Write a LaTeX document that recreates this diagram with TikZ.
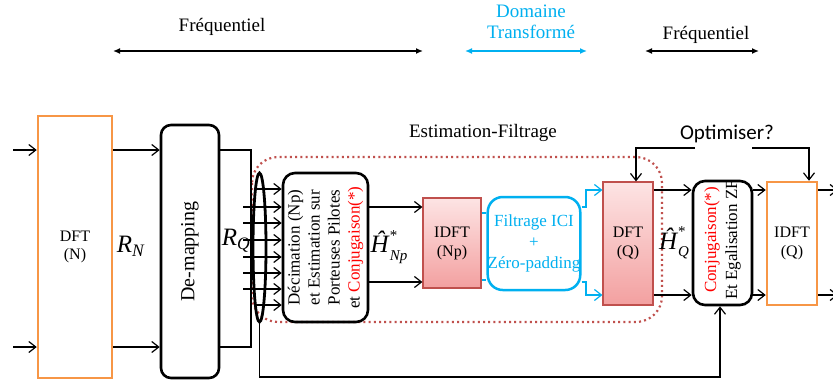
\documentclass[tikz,border=0pt]{standalone}
\usepackage{fontspec}
\setmainfont{Liberation Serif}
\newfontfamily\carlito{Carlito}
\usetikzlibrary{arrows.meta,shapes.geometric}
\definecolor{orng}{HTML}{F79646}
\definecolor{cyn}{HTML}{00B0F0}
\definecolor{dred}{HTML}{C0504D}
\definecolor{ptop}{HTML}{FDE4E4}
\definecolor{pbot}{HTML}{F3A0A0}
\newcommand{\setfs}[2]{\fontsize{#1bp}{#2bp}\selectfont}
\newcommand{\hatlbl}[1]{\textit{Ĥ}\makebox[0pt][l]{\raisebox{0.5em}{\setfs{15}{15}*}}\raisebox{-0.3em}{\setfs{15}{15}\textit{#1}}}
\begin{document}
\begin{tikzpicture}[x=1bp,y=-1bp,
  conn/.style={line width=1.2bp,-{Straight Barb[length=7bp,width=11bp]}},
  cconn/.style={conn,draw=cyn},
  plain/.style={line width=1.2bp},
  obox/.style={draw=orng,line width=2.5bp,inner sep=0},
  bbox/.style={draw=black,line width=2.6bp,rounded corners=10bp,inner sep=0},
  pbox/.style={draw=dred,line width=1.2bp,top color=ptop,bottom color=pbot,inner sep=0,align=center,font=\setfs{16}{19}},
  txt/.style={inner sep=0,align=center},
  dbl/.style={line width=1.6bp,{Latex[length=7bp,width=6bp]}-{Latex[length=7bp,width=6bp]}}
]
\useasboundingbox (0,0) rectangle (833,385);
\clip (0,0) rectangle (833,385);
\fill[white] (0,0) rectangle (833,385);

% top labels
\node[txt,font=\setfs{19}{21}] (fq1) at (222,27) {Fréquentiel};
\coordinate (a1) at (113,51); \coordinate (a2) at (423,51);
\draw[dbl] (a1) -- (a2);
\node[txt,font=\setfs{19}{21},text=cyn] (dom) at (531,22) {Domaine\\Transformé};
\coordinate (c1) at (465,51); \coordinate (c2) at (587,51);
\draw[dbl,draw=cyn] (c1) -- (c2);
\node[txt,font=\setfs{19}{21}] (fq2) at (706,35) {Fréquentiel};
\coordinate (f1) at (645,51); \coordinate (f2) at (759,51);
\draw[dbl] (f1) -- (f2);

% dotted estimation region
\draw[dred,line width=2.2bp,dash pattern=on 2bp off 3.2bp,rounded corners=26bp] (252,157) rectangle (662,322);
\node[txt,font=\setfs{19}{21}] (est) at (483,133) {Estimation-Filtrage};

% boxes
\node[obox,minimum width=74bp,minimum height=262bp,align=center,font=\setfs{16}{18}] (dftn) at (75,247) {DFT\\(N)};
\node[bbox,minimum width=58bp,minimum height=253bp] (demap) at (190,251.5) {};
\node[txt,rotate=90,font=\setfs{20}{22}] (demapT) at (demap.center) {De-mapping};
\node[draw,ellipse,line width=2.8bp,minimum width=13bp,minimum height=149bp,inner sep=0] (ell) at (259.5,247.5) {};
\node[bbox,rounded corners=12bp,minimum width=85bp,minimum height=149bp] (dec) at (325.5,247.5) {};
\node[txt,rotate=90,font=\setfs{17}{20}] (decT) at (dec.center) {Décimation (Np)\\et Estimation sur\\Porteuses Pilotes\\et \textcolor{red}{Conjugaison(*)}};
\node[pbox,minimum width=58bp,minimum height=90bp] (idftnp) at (452,243) {IDFT\\(Np)};
\node[draw=cyn,line width=2.5bp,rounded corners=15bp,minimum width=92bp,minimum height=93bp,inner sep=0,align=center,text=cyn,font=\setfs{17}{21}] (filt) at (534,243.5) {Filtrage ICI\\+\\Zéro-padding};
\node[pbox,minimum width=50bp,minimum height=123bp] (dftq) at (628,243.5) {DFT\\(Q)};
\node[bbox,rounded corners=12bp,minimum width=59bp,minimum height=124bp] (conj) at (722.5,243) {};
\node[txt,rotate=90,font=\setfs{17}{21}] (conjT) at (722.5,240) {\textcolor{red}{Conjugaison(*)}\\Et Egalisation ZF};
\node[obox,minimum width=50bp,minimum height=123bp,align=center,font=\setfs{16}{19}] (idftq) at (792,243.5) {IDFT\\(Q)};

% labels
\node[txt,font=\setfs{25}{25}] (rn) at (131,246) {\textit{R}\textsubscript{\textit{N}}};
\node[txt,font=\setfs{25}{25}] (rq) at (236,241) {\textit{R}\textsubscript{\textit{Q}}};
\node[txt,font=\setfs{25}{25}] (hnp) at (389,247) {\hatlbl{Np}};
\node[txt,font=\setfs{25}{25}] (hq) at (674,243) {\hatlbl{Q}};
\node[txt,font=\carlito\setfs{21}{23}] (opt) at (727,134) {Optimiser?};

% inputs
\coordinate (i1) at (13,150); \coordinate (i2) at (13,347);
\draw[conn] (i1) -- (dftn.west |- i1);
\draw[conn] (i2) -- (dftn.west |- i2);
\draw[conn] (dftn.east |- i1) -- (demap.west |- i1);
\draw[conn] (dftn.east |- i2) -- (demap.west |- i2);

% bracket after de-mapping
\coordinate (b1) at (251,150); \coordinate (b2) at (251,347);
\draw[plain] (demap.east |- b1) -- (b1) -- (b2) -- (demap.east |- b2);

% arrows into decimation
\foreach \yy/\xs in {189/256,207/243,223/243,240/243,257/243,273/243,289/243,305/256}{
  \coordinate (s) at (\xs,\yy);
  \draw[conn] (s) -- (dec.west |- s);
}

% feedback line
\coordinate (fb) at (720,377);
\draw[conn] (ell.south) |- (fb) -- (fb |- conj.south);

% decimation -> IDFT(Np)
\coordinate (d1) at (0,207); \coordinate (d2) at (0,282);
\draw[conn] (dec.east |- d1) -- (idftnp.west |- d1);
\draw[conn] (dec.east |- d2) -- (idftnp.west |- d2);

% IDFT(Np) -> filtrage
\coordinate (e1) at (0,213); \coordinate (e2) at (0,280);
\draw[cyn,line width=1.4bp] (idftnp.east |- e1) -- (filt.west |- e1);
\draw[cyn,line width=1.4bp] (idftnp.east |- e2) -- (filt.west |- e2);

% filtrage -> DFT(Q)
\coordinate (g1) at (586,207); \coordinate (g2) at (586,282);
\coordinate (h1) at (0,190); \coordinate (h2) at (0,295);
\draw[cconn] (filt.east |- g1) -- (g1) |- (dftq.west |- h1);
\draw[cconn] (filt.east |- g2) -- (g2) |- (dftq.west |- h2);

% DFT(Q) -> conj -> IDFT(Q) -> out
\draw[conn] (dftq.east |- h1) -- (conj.west |- h1);
\draw[conn] (dftq.east |- h2) -- (conj.west |- h2);
\draw[conn] (conj.east |- h1) -- (idftq.west |- h1);
\draw[conn] (conj.east |- h2) -- (idftq.west |- h2);
\coordinate (o1) at (838,190); \coordinate (o2) at (838,295);
\draw[conn] (idftq.east |- o1) -- (o1);
\draw[conn] (idftq.east |- o2) -- (o2);

% optimiser lines
\coordinate (p1) at (636,148); \coordinate (p2) at (695,148);
\coordinate (p3) at (752,148); \coordinate (p4) at (809,148);
\draw[conn] (p2) -- (p1) -- (p1 |- dftq.north);
\draw[conn] (p3) -- (p4) -- (p4 |- idftq.north);
\end{tikzpicture}
\end{document}
